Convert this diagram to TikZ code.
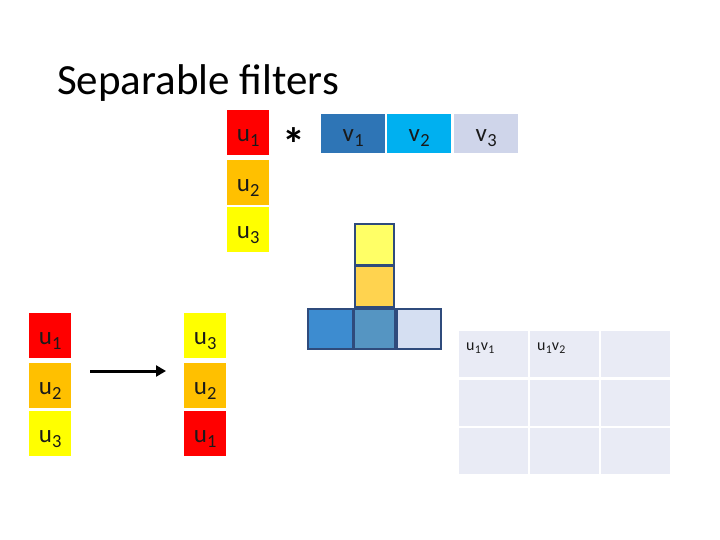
\documentclass[tikz,border=0pt]{standalone}
\usepackage{fontspec}
\setmainfont{Carlito}
\usepackage{xcolor}
\usetikzlibrary{arrows.meta}
\definecolor{ured}{HTML}{FF0000}
\definecolor{uorange}{HTML}{FFC000}
\definecolor{uyellow}{HTML}{FFFF00}
\definecolor{vdark}{HTML}{2E75B6}
\definecolor{vcyan}{HTML}{00B0F0}
\definecolor{vpale}{HTML}{CFD5EA}
\definecolor{kyellow}{HTML}{FFFF66}
\definecolor{korange}{HTML}{FFD34F}
\definecolor{kleft}{HTML}{3D8CD0}
\definecolor{kmid}{HTML}{5595C2}
\definecolor{kright}{HTML}{D5DFF2}
\definecolor{kedge}{HTML}{2F4B7C}
\definecolor{gridfill}{HTML}{E9EBF5}
\definecolor{labtext}{HTML}{1A1A1A}
\newcommand{\lab}[2]{#1\kern.3pt\raisebox{-.2em}{\scalebox{.74}{#2}}}

\begin{document}
\begin{tikzpicture}[x=1pt,y=-1pt,
    cell/.style={inner sep=0pt,anchor=north west,minimum width=42,minimum height=45,
      text height=18pt,text depth=0pt,text=labtext,font=\fontsize{25}{25}\selectfont},
    vcell/.style={cell,minimum width=64,minimum height=39,text height=16pt},
    kcell/.style={inner sep=0pt,anchor=north west,draw=kedge,line width=1.6pt},
    gcell/.style={inner sep=0pt,anchor=north west,fill=gridfill,minimum width=69,minimum height=46},
    glab/.style={inner sep=0pt,anchor=base west,text=labtext,font=\fontsize{16}{16}\selectfont}]
    \useasboundingbox (0,0) rectangle (720,540);
    \node[inner sep=0pt,anchor=base west,font=\fontsize{43}{43}\selectfont] (title) at (57,95) {Separable filters};

    \node[cell,fill=ured] (u1) at (227,110) {\lab{u}{1}};
    \node[cell,fill=uorange] (u2) at (227,160) {\lab{u}{2}};
    \node[cell,fill=uyellow] (u3) at (227,207) {\lab{u}{3}};
    \node[inner sep=0pt,font=\bfseries\fontsize{46}{46}\selectfont] (conv) at (294,144) {*};
    \node[vcell,fill=vdark] (v1) at (321,114) {\lab{v}{1}};
    \node[vcell,fill=vcyan] (v2) at (387,114) {\lab{v}{2}};
    \node[vcell,fill=vpale] (v3) at (454,114) {\lab{v}{3}};

    \node[kcell,fill=kyellow,minimum width=39,minimum height=41] (k1) at (354,223) {};
    \node[kcell,fill=korange,minimum width=39,minimum height=41] (k2) at (354,265) {};
    \node[kcell,fill=kleft,minimum width=45,minimum height=40] (k3) at (307,308) {};
    \node[kcell,fill=kmid,minimum width=41,minimum height=40] (k4) at (353,308) {};
    \node[kcell,fill=kright,minimum width=44,minimum height=40] (k5) at (396,308) {};

    \node[cell,fill=ured] (a1) at (29,313) {\lab{u}{1}};
    \node[cell,fill=uorange] (a2) at (29,363) {\lab{u}{2}};
    \node[cell,fill=uyellow] (a3) at (29,411) {\lab{u}{3}};
    \node[cell,fill=uyellow] (b3) at (184,313) {\lab{u}{3}};
    \node[cell,fill=uorange] (b2) at (184,363) {\lab{u}{2}};
    \node[cell,fill=ured] (b1) at (184,411) {\lab{u}{1}};
    \coordinate (flipA) at (90,371);
    \coordinate (flipB) at (166,371);
    \draw[line width=3pt,-{Triangle[length=10pt,width=11pt]}] (flipA) -- (flipB);

    \node[gcell] (g11) at (459,331) {};
    \node[gcell] (g12) at (530,331) {};
    \node[gcell] (g13) at (601,331) {};
    \node[gcell] (g21) at (459,380) {};
    \node[gcell] (g22) at (530,380) {};
    \node[gcell] (g23) at (601,380) {};
    \node[gcell] (g31) at (459,428) {};
    \node[gcell] (g32) at (530,428) {};
    \node[gcell] (g33) at (601,428) {};
    \node[glab] (p11) at (466,350) {\lab{u}{1}\lab{v}{1}};
    \node[glab] (p12) at (537,350) {\lab{u}{1}\lab{v}{2}};
\end{tikzpicture}
\end{document}
